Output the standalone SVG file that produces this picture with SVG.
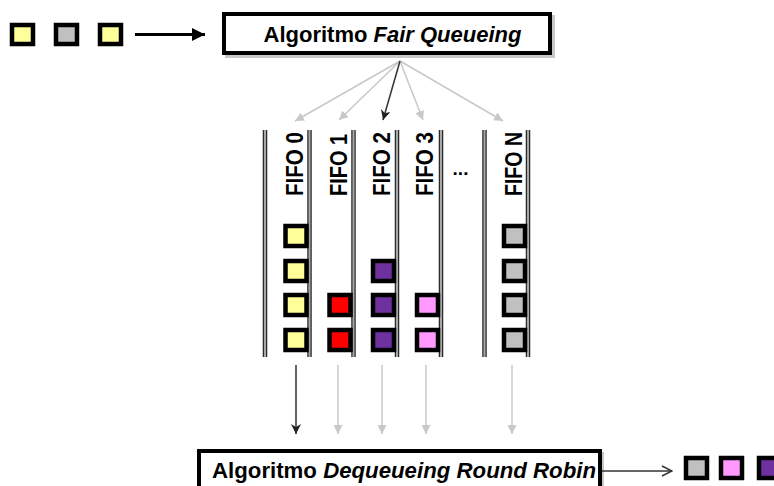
<svg xmlns="http://www.w3.org/2000/svg" width="774" height="486" viewBox="0 0 774 486">
<style>
.pk{stroke:#000;stroke-width:4.5}
.y{fill:#ffff99}.g{fill:#c0c0c0}.r{fill:#ff0000}.p{fill:#7030a0}.k{fill:#ff99ff}
.box{fill:#fff;stroke:#000;stroke-width:4}
.shadow{fill:#c8c8c8}
.t{font-family:"Liberation Sans",Arial,sans-serif;font-weight:bold;fill:#000}
.lbl{font-family:"Liberation Sans",Arial,sans-serif;font-weight:bold;font-size:24px;fill:#000}
.wallo{stroke:#2a2a2a;stroke-width:4.5}
.walli{stroke:#a8a8a8;stroke-width:2}
.ga{stroke:#c8c8c8;stroke-width:1.5;fill:none}
.da{stroke:#333;stroke-width:1.5;fill:none}
</style>
<defs>
<marker id="mg" viewBox="0 0 10 10" refX="10" refY="5" markerWidth="9" markerHeight="9" markerUnits="userSpaceOnUse" orient="auto"><path d="M0,0 L10,5 L0,10 z" fill="#c8c8c8"/></marker>
<marker id="md" viewBox="0 0 10 10" refX="10" refY="5" markerWidth="10" markerHeight="10" markerUnits="userSpaceOnUse" orient="auto"><path d="M0,0 L10,5 L0,10 L3,5 z" fill="#222"/></marker>
<marker id="mb" viewBox="0 0 10 10" refX="10" refY="5" markerWidth="13" markerHeight="13" markerUnits="userSpaceOnUse" orient="auto"><path d="M0,0 L10,5 L0,10 z" fill="#000"/></marker>
<marker id="mo" viewBox="0 0 12 12" refX="11" refY="6" markerWidth="12" markerHeight="12" markerUnits="userSpaceOnUse" orient="auto"><path d="M1,1 L11,6 L1,11" fill="none" stroke="#333" stroke-width="1.5"/></marker>
</defs>

<g id="input-packets">
<rect class="pk y" x="12" y="25" width="21" height="19"/>
<rect class="pk g" x="56" y="25" width="21" height="19"/>
<rect class="pk y" x="100" y="25" width="21" height="19"/>
</g>

<g id="fair-queueing">
<rect class="shadow" x="225" y="15" width="330" height="43"/>
<rect class="box" x="224" y="14" width="326" height="39"/>
<text class="t" x="392.5" y="42" font-size="22" text-anchor="middle">Algoritmo <tspan font-style="italic">Fair Queueing</tspan></text>
</g>

<g id="fifo-walls">
<line class="wallo" x1="265" y1="130" x2="265" y2="357"/><line class="walli" x1="265" y1="130" x2="265" y2="357"/>
<line class="wallo" x1="309.5" y1="130" x2="309.5" y2="357"/><line class="walli" x1="309.5" y1="130" x2="309.5" y2="357"/>
<line class="wallo" x1="353.5" y1="130" x2="353.5" y2="357"/><line class="walli" x1="353.5" y1="130" x2="353.5" y2="357"/>
<line class="wallo" x1="397" y1="130" x2="397" y2="357"/><line class="walli" x1="397" y1="130" x2="397" y2="357"/>
<line class="wallo" x1="441" y1="130" x2="441" y2="357"/><line class="walli" x1="441" y1="130" x2="441" y2="357"/>
<line class="wallo" x1="484.5" y1="130" x2="484.5" y2="357"/><line class="walli" x1="484.5" y1="130" x2="484.5" y2="357"/>
<line class="wallo" x1="528" y1="130" x2="528" y2="357"/><line class="walli" x1="528" y1="130" x2="528" y2="357"/>
</g>

<g id="fifo0">
<text class="lbl" transform="translate(302.5,196) rotate(-90)" textLength="64" lengthAdjust="spacingAndGlyphs">FIFO 0</text>
<rect class="pk y" x="285.5" y="226" width="21" height="20"/>
<rect class="pk y" x="285.5" y="261" width="21" height="20"/>
<rect class="pk y" x="285.5" y="295" width="21" height="20"/>
<rect class="pk y" x="285.5" y="330" width="21" height="20"/>
</g>

<g id="fifo1">
<text class="lbl" transform="translate(346.5,196) rotate(-90)" textLength="62" lengthAdjust="spacingAndGlyphs">FIFO 1</text>
<rect class="pk r" x="329.5" y="295" width="21" height="20"/>
<rect class="pk r" x="329.5" y="330" width="21" height="20"/>
</g>

<g id="fifo2">
<text class="lbl" transform="translate(390,196) rotate(-90)" textLength="64" lengthAdjust="spacingAndGlyphs">FIFO 2</text>
<rect class="pk p" x="373" y="261" width="21" height="20"/>
<rect class="pk p" x="373" y="295" width="21" height="20"/>
<rect class="pk p" x="373" y="330" width="21" height="20"/>
</g>

<g id="fifo3">
<text class="lbl" transform="translate(432.5,196) rotate(-90)" textLength="64" lengthAdjust="spacingAndGlyphs">FIFO 3</text>
<rect class="pk k" x="417" y="295" width="21" height="20"/>
<rect class="pk k" x="417" y="330" width="21" height="20"/>
</g>

<g id="fifo-dots">
<text class="t" x="460.5" y="175" font-size="19" text-anchor="middle">...</text>
</g>

<g id="fifoN">
<text class="lbl" transform="translate(521.5,196) rotate(-90)" textLength="64" lengthAdjust="spacingAndGlyphs">FIFO N</text>
<rect class="pk g" x="504" y="226" width="21" height="20"/>
<rect class="pk g" x="504" y="261" width="21" height="20"/>
<rect class="pk g" x="504" y="295" width="21" height="20"/>
<rect class="pk g" x="504" y="330" width="21" height="20"/>
</g>

<g id="round-robin">
<rect class="shadow" x="200" y="452" width="404" height="40"/>
<rect class="box" x="199" y="451" width="401" height="40"/>
<text class="t" x="212" y="478" font-size="22" textLength="384" lengthAdjust="spacingAndGlyphs">Algoritmo <tspan font-style="italic">Dequeueing</tspan> <tspan font-style="italic">Round Robin</tspan></text>
</g>

<g id="output-packets">
<rect class="pk g" x="686" y="458" width="21" height="20"/>
<rect class="pk k" x="721" y="458" width="21" height="20"/>
<rect class="pk p" x="759" y="458" width="21" height="20"/>
</g>

<g id="connectors">
<line x1="135" y1="34.5" x2="205" y2="34.5" stroke="#000" stroke-width="3" marker-end="url(#mb)"/>
<line class="ga" x1="400" y1="61" x2="295" y2="121" marker-end="url(#mg)"/>
<line class="ga" x1="400" y1="61" x2="339" y2="120" marker-end="url(#mg)"/>
<line class="ga" x1="400" y1="61" x2="423" y2="120" marker-end="url(#mg)"/>
<line class="ga" x1="400" y1="61" x2="503" y2="121" marker-end="url(#mg)"/>
<line class="da" x1="400" y1="61" x2="383" y2="120" marker-end="url(#md)"/>
<line class="da" x1="296" y1="365" x2="296" y2="434" marker-end="url(#md)"/>
<line class="ga" x1="338" y1="365" x2="338" y2="434" marker-end="url(#mg)"/>
<line class="ga" x1="382" y1="365" x2="382" y2="434" marker-end="url(#mg)"/>
<line class="ga" x1="426" y1="365" x2="426" y2="434" marker-end="url(#mg)"/>
<line class="ga" x1="512" y1="365" x2="512" y2="434" marker-end="url(#mg)"/>
<line x1="602" y1="471" x2="672" y2="471" stroke="#333" stroke-width="1.5" marker-end="url(#mo)"/>
</g>
</svg>
